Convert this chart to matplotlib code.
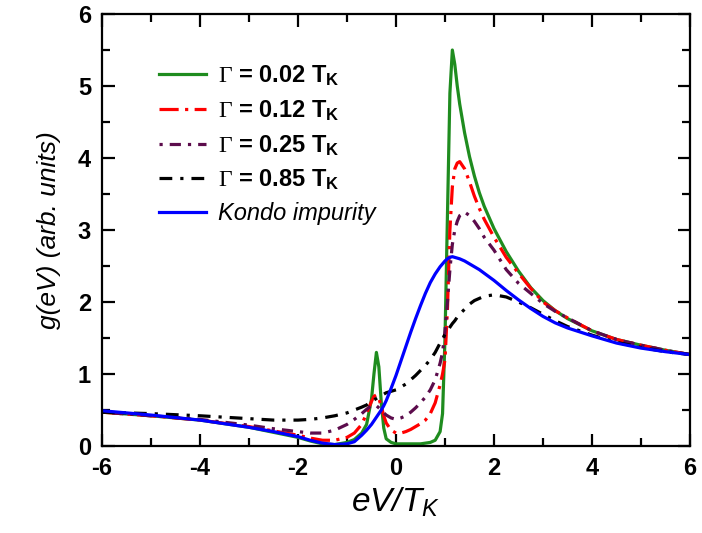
import matplotlib
matplotlib.use("Agg")
import matplotlib.pyplot as plt
from matplotlib.ticker import MultipleLocator

plt.rcParams["font.family"] = ["Liberation Sans", "DejaVu Sans"]
plt.rcParams["mathtext.fontset"] = "custom"
plt.rcParams["mathtext.rm"] = "Liberation Serif"
plt.rcParams["mathtext.bf"] = "Liberation Sans:bold"
plt.rcParams["mathtext.it"] = "Liberation Sans:italic"
plt.rcParams["axes.unicode_minus"] = False

# bias voltage eV/T_K
ev = [-6, -5, -4, -3, -2.5, -2, -1.75, -1.5, -1.25, -1, -0.85, -0.7, -0.6, -0.5,
      -0.45, -0.4, -0.35, -0.3, -0.25, -0.2, -0.1, 0, 0.1, 0.2, 0.3, 0.4, 0.5,
      0.6, 0.7, 0.8, 0.9, 0.95, 1.0, 1.05, 1.1, 1.15, 1.2, 1.25, 1.3, 1.4, 1.5,
      1.6, 1.7, 1.8, 2.0, 2.25, 2.5, 2.75, 3.0, 3.25, 3.5, 4.0, 4.5, 5.0, 5.5, 6.0]

g_002 = [0.47, 0.42, 0.36, 0.26, 0.19, 0.12, 0.07, 0.03, 0.02, 0.05, 0.09, 0.18,
         0.3, 0.65, 1.0, 1.3, 1.1, 0.6, 0.25, 0.1, 0.05, 0.03, 0.03, 0.03, 0.03,
         0.03, 0.03, 0.04, 0.05, 0.08, 0.2, 0.45, 1.5, 3.2, 4.9, 5.5, 5.3, 5.0,
         4.75, 4.35, 4.02, 3.75, 3.52, 3.33, 3.02, 2.7, 2.43, 2.2, 2.02, 1.88,
         1.77, 1.6, 1.48, 1.4, 1.33, 1.27]

g_012 = [0.47, 0.42, 0.36, 0.27, 0.21, 0.15, 0.11, 0.08, 0.08, 0.12, 0.18, 0.3,
         0.45, 0.62, 0.69, 0.71, 0.66, 0.55, 0.42, 0.32, 0.22, 0.18, 0.18, 0.2,
         0.23, 0.27, 0.31, 0.36, 0.45, 0.6, 0.85, 1.0, 1.2, 1.9, 3.0, 3.6, 3.85,
         3.93, 3.95, 3.85, 3.67, 3.47, 3.3, 3.15, 2.9, 2.62, 2.4, 2.19, 2.0, 1.88,
         1.78, 1.6, 1.48, 1.4, 1.33, 1.27]

g_025 = [0.47, 0.42, 0.37, 0.29, 0.24, 0.2, 0.18, 0.18, 0.22, 0.3, 0.37, 0.45,
         0.51, 0.56, 0.57, 0.56, 0.53, 0.5, 0.46, 0.43, 0.39, 0.37, 0.39, 0.42,
         0.47, 0.53, 0.6, 0.68, 0.78, 0.92, 1.15, 1.3, 1.6, 2.0, 2.45, 2.8, 3.0,
         3.12, 3.2, 3.25, 3.2, 3.12, 3.02, 2.9, 2.72, 2.45, 2.26, 2.12, 1.98, 1.87,
         1.78, 1.6, 1.48, 1.4, 1.33, 1.27]

g_085 = [0.47, 0.45, 0.42, 0.38, 0.36, 0.36, 0.37, 0.39, 0.42, 0.46, 0.5, 0.54,
         0.57, 0.62, 0.64, 0.66, 0.68, 0.7, 0.72, 0.74, 0.76, 0.78, 0.82, 0.86,
         0.92, 0.98, 1.05, 1.12, 1.2, 1.3, 1.43, 1.49, 1.55, 1.6, 1.65, 1.7, 1.74,
         1.79, 1.83, 1.9, 1.97, 2.02, 2.05, 2.08, 2.1, 2.07, 2.0, 1.92, 1.83, 1.74,
         1.66, 1.54, 1.44, 1.37, 1.31, 1.27]

g_kondo = [0.49, 0.43, 0.36, 0.26, 0.2, 0.13, 0.08, 0.04, 0.02, 0.03, 0.06, 0.15,
           0.22, 0.3, 0.35, 0.4, 0.45, 0.5, 0.56, 0.63, 0.8, 0.98, 1.18, 1.38,
           1.58, 1.77, 1.95, 2.12, 2.27, 2.39, 2.49, 2.53, 2.57, 2.6, 2.62, 2.63,
           2.62, 2.61, 2.6, 2.57, 2.53, 2.49, 2.45, 2.4, 2.3, 2.16, 2.03, 1.91,
           1.8, 1.71, 1.64, 1.53, 1.43, 1.36, 1.31, 1.27]

labels = [r"$\Gamma$ = 0.02 T$_{\mathbf{K}}$",
          r"$\Gamma$ = 0.12 T$_{\mathbf{K}}$",
          r"$\Gamma$ = 0.25 T$_{\mathbf{K}}$",
          r"$\Gamma$ = 0.85 T$_{\mathbf{K}}$",
          "Kondo impurity"]

fig = plt.figure(figsize=(7.02, 5.33), dpi=100)
ax = fig.add_axes([0.1453, 0.1632, 0.8376, 0.8105])

lw = 2.3
ax.plot(ev, g_002, color="#1f8c1f", lw=lw, ls="-", label=labels[0])
ax.plot(ev, g_012, color="#ff0000", lw=lw, ls=(0, (6, 2, 1, 2)), label=labels[1])
ax.plot(ev, g_025, color="#5c0c4c", lw=lw, ls=(0, (1, 2.2, 3.5, 2.2)), label=labels[2])
ax.plot(ev, g_085, color="#000000", lw=lw, ls=(0, (4, 2.5, 1, 2.5)), label=labels[3])
ax.plot(ev, g_kondo, color="#0000ff", lw=lw, ls="-", label=labels[4])

ax.set_xlim(-6, 6)
ax.set_ylim(0, 6)
ax.xaxis.set_major_locator(MultipleLocator(2))
ax.xaxis.set_minor_locator(MultipleLocator(1))
ax.yaxis.set_major_locator(MultipleLocator(1))
ax.yaxis.set_minor_locator(MultipleLocator(0.5))
ax.tick_params(which="both", direction="in", top=True, right=True, width=1.6,
               labelsize=17, pad=8)
ax.tick_params(which="major", length=9)
ax.tick_params(which="minor", length=6)
for lab in ax.get_xticklabels() + ax.get_yticklabels():
    lab.set_fontweight("bold")
for s in ax.spines.values():
    s.set_linewidth(1.6)

ax.set_xlabel(r"eV/T$_{\mathit{K}}$", fontsize=24, style="italic", labelpad=4)
ax.set_ylabel("g(eV) (arb. units)", fontsize=19, style="italic", labelpad=12)

leg = ax.legend(loc="upper left", bbox_to_anchor=(0.065, 0.93), frameon=False,
                handlelength=2.0, handletextpad=0.5, labelspacing=0.42,
                borderpad=0.3, prop={"size": 17, "weight": "bold"})
leg.get_texts()[4].set_fontweight("normal")
leg.get_texts()[4].set_fontstyle("italic")

fig.savefig("out.png", dpi=100)
